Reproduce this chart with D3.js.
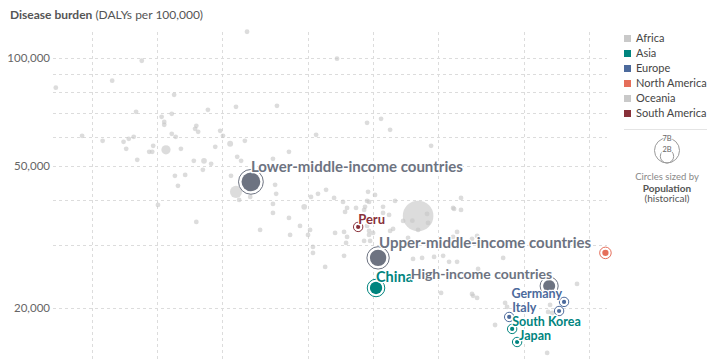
<!DOCTYPE html>
<html><head><meta charset="utf-8">
<script src="https://cdn.jsdelivr.net/npm/d3@7"></script>
<style>
body{margin:0;background:#fff;}
text{font-family:Lato,"Noto Sans",sans-serif;}
</style>
</head><body>
<svg id="chart" width="720" height="360"></svg>
<script>
// ---------------- DATA ----------------
const yTickLabels = [20000, 50000, 100000];
const yGridValues = [10000, 20000, 30000, 40000, 50000, 60000, 70000, 80000, 90000, 100000];
const xGridValues = [50, 100, 200, 500, 1000, 2000, 5000, 10000];

const continents = ["Africa", "Asia", "Europe", "North America", "Oceania", "South America"];
const continentColors = ["#c9c9c9", "#00847e", "#4c6a9c", "#e56e5a", "#c9c9c9", "#883039"];

// background entities: [health expenditure per capita, DALYs per 100,000, population (millions)]
const otherEntities = [
  [261,118200,10],[85,98100,10],[681,99400,10],[62,86300,10],[34,82500,10],[120,78800,10],
  [359,73400,10],[80,70650,10],[105,68400,10],[117,69750,10],[172,71560,10],[232,72950,10],
  [1089,67550,10],[938,65830,10],[1199,62930,10],[545,60930,10],[1856,56770,10],[108,66200,10],
  [108,65000,10],[152,64570,10],[150,63330,10],[155,62120,10],[117,61330,10],[122,60150,10],
  [196,62520,10],[202,60540,10],[45,60540,10],[56,58630,10],[70,58250,10],[74,59380,10],
  [78,60150,10],[72,55690,10],[81,51900,10],[92,54630,10],[95,54630,10],[96,56770,10],
  [110,55340,700],[129,55690,10],[186,56410,10],[218,57510,290],[255,58630,10],[408,54630,10],
  [148,51560,10],[165,51560,270],[178,50570,10],[163,48660,10],[235,52910,10],[245,51560,10],
  [344,52230,10],[121,46810,10],[135,47100,10],[125,43900,10],[220,46810,10],[232,42230,1200],
  [240,40110,10],[270,40890,10],[352,44180,10],[356,41690,10],[344,39090,10],[344,36890,10],
  [408,35720,10],[480,38350,270],[516,40890,10],[556,41690,10],[606,42780,10],[660,40630,10],
  [101,38840,10],[152,34810,10],[300,33070,10],[948,42230,10],[1021,41420,10],[938,39850,10],
  [726,39600,10],[742,37130,10],[758,38100,10],[834,38100,10],[918,38350,10],[909,37610,10],
  [958,39600,10],[1112,38350,10],[1112,36890,10],[1186,36420,10],[1264,39850,10],[1377,35030,10],
  [1520,35100,10],[1616,36180,7700],[1778,36650,10],[1797,34590,10],[1616,33070,10],[1452,31420,10],
  [2346,38100,10],[2371,37850,10],[2553,37610,10],[2553,40630,10],[2448,32650,10],[2346,31620,10],
  [3030,31820,10],[2871,31220,10],[938,33930,10],[958,32030,10],[667,32440,10],[734,32650,10],
  [758,31620,10],[750,30420,10],[958,32860,10],[1000,32440,10],[909,30820,10],[969,30820,10],
  [1199,32860,10],[1238,33280,10],[413,32030,10],[459,33930,10],[500,32030,10],[511,33070,10],
  [527,29650,10],[527,28530,10],[734,27990,10],[600,26070,10],[1531,27450,10],[1686,27630,10],
  [1916,27800,10],[2110,27990,10],[2248,26930,10],[2448,26930,10],[3063,25740,10],[4000,27630,10],
  [2065,22060,10],[2871,21920,10],[2904,21650,10],[3030,21360,10],[4085,20680,10],[4170,20160,10],
  [6596,20420,10],[6460,19520,10],[6745,19390,10],[8790,23370,10],[3670,17950,10],[6395,15000,10]
];

const incomeGroups = ["Lower-middle-income countries", "Upper-middle-income countries", "High-income countries"];
const incomeSpend = [272, 1055, 6531];
const incomeDalys = [45040, 27630, 23070];
const incomePop = [2900e6, 2200e6, 1200e6];

const countries = ["Peru", "China", "United States", "Germany", "France", "Italy", "South Korea", "Japan"];
const countryContinent = ["South America", "Asia", "North America", "Europe", "Europe", "Europe", "Asia", "Asia"];
const countrySpend = [853, 1032, 11900, 7656, 7261, 4266, 4403, 4642];
const countryDalys = [33710, 22770, 28530, 20820, 19640, 18900, 17500, 16090];
const countryPop = [32e6, 1250e6, 330e6, 83e6, 65e6, 60e6, 51e6, 126e6];

const sizeLegendValues = [7e9, 2e9];
const sizeLegendLabels = ["7B", "2B"];

// ---------------- LAYOUT ----------------
const svg = d3.select("#chart");
const plot = {left: 53, right: 607, top: 32, bottom: 416};
const x = d3.scaleLog().domain([33, 12100]).range([plot.left, plot.right]);
const y = d3.scaleLog().domain([10000, 118000]).range([plot.bottom, plot.top]);
const r = d3.scaleSqrt().domain([0, 7.7e9]).range([0, 15.3]);
const rLegend = d3.scaleSqrt().domain([0, 7e9]).range([0, 12.5]);
const minR = 2.4;
const colorOf = d3.scaleOrdinal().domain(continents).range(continentColors);
const incomeColor = "#6d7381";

// title
const title = svg.append("text").attr("x", 10).attr("y", 19).attr("font-size", 12).attr("fill", "#555");
title.append("tspan").attr("font-weight", 700).text("Disease burden");
title.append("tspan").text(" (DALYs per 100,000)");

// grid
const grid = svg.append("g").attr("stroke", "#dcdcdc").attr("stroke-dasharray", "3,3").attr("stroke-width", 1);
grid.selectAll("line.h").data(yGridValues).join("line")
  .attr("x1", plot.left).attr("x2", plot.right)
  .attr("y1", d => Math.round(y(d)) + 0.5).attr("y2", d => Math.round(y(d)) + 0.5);
grid.selectAll("line.v").data(xGridValues).join("line")
  .attr("y1", plot.top).attr("y2", plot.bottom)
  .attr("x1", d => Math.round(x(d)) + 0.5).attr("x2", d => Math.round(x(d)) + 0.5);

// y axis labels via d3 axis
const yAxis = d3.axisLeft(y).tickValues(yTickLabels).tickFormat(d3.format(",")).tickSize(0).tickPadding(3);
const ya = svg.append("g").attr("transform", `translate(${plot.left},0)`).call(yAxis);
ya.select(".domain").remove();
ya.selectAll("text").attr("font-family", "Lato, 'Noto Sans', sans-serif").attr("font-size", 11.5).attr("fill", "#666");

// background entities (large first)
const bg = otherEntities.map(d => ({spend: d[0], dalys: d[1], pop: d[2] * 1e6}))
  .sort((a, b) => b.pop - a.pop);
svg.append("g").selectAll("circle").data(bg).join("circle")
  .attr("cx", d => x(d.spend)).attr("cy", d => y(d.dalys))
  .attr("r", d => Math.max(minR, r(d.pop)))
  .attr("fill", "#c6c6c6").attr("fill-opacity", 0.62);

// income groups
const groups = incomeGroups.map((name, i) => ({name, spend: incomeSpend[i], dalys: incomeDalys[i], pop: incomePop[i]}));
const gg = svg.append("g");
gg.selectAll("circle.ring").data(groups).join("circle")
  .attr("cx", d => x(d.spend)).attr("cy", d => y(d.dalys))
  .attr("r", d => r(d.pop) + 3).attr("fill", "#fff").attr("stroke", incomeColor).attr("stroke-width", 1);
gg.selectAll("circle.dot").data(groups).join("circle")
  .attr("cx", d => x(d.spend)).attr("cy", d => y(d.dalys))
  .attr("r", d => r(d.pop)).attr("fill", incomeColor);

// highlighted countries
const sel = countries.map((name, i) => ({name, cont: countryContinent[i], spend: countrySpend[i], dalys: countryDalys[i], pop: countryPop[i]}));
const cg = svg.append("g");
sel.forEach(d => {
  const rr = Math.max(2.1, r(d.pop));
  cg.append("circle").attr("cx", x(d.spend)).attr("cy", y(d.dalys)).attr("r", rr + 2.6)
    .attr("fill", "#fff").attr("stroke", colorOf(d.cont)).attr("stroke-width", 1);
  cg.append("circle").attr("cx", x(d.spend)).attr("cy", y(d.dalys)).attr("r", rr)
    .attr("fill", colorOf(d.cont));
});

// labels (offsets relative to marker)
const labelLayout = {
  "Peru": {dx: 0, dy: -3, size: 13, anchor: "start"},
  "China": {dx: 0, dy: -5.5, size: 14.5, anchor: "start"},
  "Germany": {dx: -2, dy: -4, size: 12.5, anchor: "end"},
  "Italy": {dx: 3, dy: -4.5, size: 12.5, anchor: "start"},
  "South Korea": {dx: 0, dy: -3, size: 12.5, anchor: "start"},
  "Japan": {dx: 2, dy: -2.5, size: 12.5, anchor: "start"},
  "Lower-middle-income countries": {dx: 0, dy: -10, size: 15, anchor: "start"},
  "Upper-middle-income countries": {dx: 1, dy: -10, size: 15, anchor: "start"},
  "High-income countries": {dx: 3, dy: -7, size: 14, anchor: "end"}
};
const labelItems = [];
sel.forEach(d => { if (labelLayout[d.name]) labelItems.push({name: d.name, color: colorOf(d.cont), px: x(d.spend), py: y(d.dalys)}); });
groups.forEach(d => labelItems.push({name: d.name, color: incomeColor, px: x(d.spend), py: y(d.dalys)}));
const lg = svg.append("g");
labelItems.forEach(d => {
  const L = labelLayout[d.name];
  lg.append("text").attr("x", d.px + L.dx).attr("y", d.py + L.dy)
    .attr("text-anchor", L.anchor).attr("font-size", L.size).attr("font-weight", 700)
    .attr("fill", d.color).attr("stroke", "#fff").attr("stroke-width", 2.5)
    .attr("stroke-linejoin", "round").attr("paint-order", "stroke")
    .text(d.name);
});

// color legend
const leg = svg.append("g").attr("transform", "translate(624,0)");
continents.forEach((c, i) => {
  const cy = 38.5 + i * 15;
  leg.append("rect").attr("x", 0).attr("y", cy - 3.5).attr("width", 7).attr("height", 7).attr("fill", colorOf(c));
  leg.append("text").attr("x", 12).attr("y", cy).attr("dy", "0.35em").attr("font-size", 11).attr("fill", "#444").text(c);
});
svg.append("line").attr("x1", 624).attr("x2", 707).attr("y1", 129.5).attr("y2", 129.5).attr("stroke", "#e4e4e4");

// size legend
const sl = svg.append("g");
const baseY = 163, cx0 = 667;
sizeLegendValues.forEach((v, i) => {
  const rr = rLegend(v);
  sl.append("circle").attr("cx", cx0).attr("cy", baseY - rr).attr("r", rr)
    .attr("fill", "none").attr("stroke", "#999").attr("stroke-width", 1);
  sl.append("text").attr("x", cx0).attr("y", baseY - 2 * rr).attr("dy", "0.35em")
    .attr("text-anchor", "middle").attr("font-size", 7.5).attr("fill", "#666")
    .attr("stroke", "#fff").attr("stroke-width", 2).attr("paint-order", "stroke").text(sizeLegendLabels[i]);
});
sl.append("text").attr("x", cx0).attr("y", 177).attr("dy", "0.35em").attr("text-anchor", "middle")
  .attr("font-size", 9.5).attr("fill", "#888").text("Circles sized by");
sl.append("text").attr("x", cx0).attr("y", 188).attr("dy", "0.35em").attr("text-anchor", "middle")
  .attr("font-size", 10).attr("font-weight", 700).attr("fill", "#555").text("Population");
sl.append("text").attr("x", cx0).attr("y", 198.5).attr("dy", "0.35em").attr("text-anchor", "middle")
  .attr("font-size", 10).attr("fill", "#555").text("(historical)");
</script>
</body></html>
